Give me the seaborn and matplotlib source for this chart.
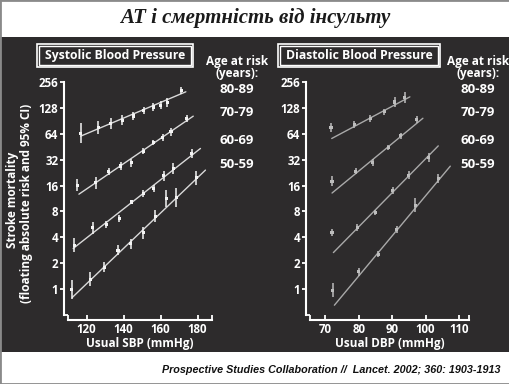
import numpy as np
import pandas as pd
import seaborn as sns
import matplotlib
matplotlib.use("Agg")
import matplotlib.pyplot as plt
from matplotlib.patches import Rectangle
from matplotlib.ticker import FixedLocator, FixedFormatter, NullFormatter

# ---------------- data ----------------
age_groups = ["80-89", "70-79", "60-69", "50-59"]

# Systolic panel: usual SBP (mmHg), floating absolute risk, CI half-width (log2 units)
sbp_x_80 = [116.8, 126.3, 133.0, 139.3, 145.2, 151.0, 156.0, 160.0, 163.6, 171.2]
sbp_y_80 = [65, 76, 84, 92, 103, 120, 131, 137, 148, 202]
sbp_e_80 = [0.39, 0.26, 0.22, 0.19, 0.17, 0.13, 0.15, 0.15, 0.19, 0.13]

sbp_x_70 = [115.1, 124.9, 131.9, 138.4, 144.3, 150.6, 156.1, 161.1, 165.7, 174.1]
sbp_y_70 = [16.2, 17.2, 23.4, 27.0, 29.5, 40.0, 51.0, 58.4, 67.4, 96.4]
sbp_e_70 = [0.23, 0.23, 0.13, 0.15, 0.16, 0.12, 0.10, 0.14, 0.16, 0.13]

sbp_x_60 = [113.5, 123.4, 130.7, 137.8, 144.3, 150.6, 156.4, 161.8, 166.9, 176.8]
sbp_y_60 = [3.25, 5.16, 5.65, 6.63, 10.3, 12.9, 14.8, 20.8, 25.3, 37.8]
sbp_e_60 = [0.28, 0.23, 0.15, 0.13, 0.09, 0.14, 0.15, 0.19, 0.21, 0.17]

sbp_x_50 = [112.1, 122.0, 129.6, 137.0, 143.8, 150.6, 157.1, 163.1, 168.5, 179.3]
sbp_y_50 = [0.99, 1.30, 1.79, 2.84, 3.36, 4.51, 7.06, 11.3, 11.6, 19.7]
sbp_e_50 = [0.37, 0.27, 0.19, 0.19, 0.19, 0.24, 0.24, 0.32, 0.37, 0.26]

# fitted lines (start/end)
sbp_fit_x_80 = [116.8, 173.7]; sbp_fit_y_80 = [60, 197]
sbp_fit_x_70 = [115.9, 177.7]; sbp_fit_y_70 = [12.7, 102.6]
sbp_fit_x_60 = [112.8, 181.6]; sbp_fit_y_60 = [2.97, 43.2]
sbp_fit_x_50 = [112.3, 184.3]; sbp_fit_y_50 = [0.80, 24.2]

# Diastolic panel
dbp_x_80 = [71.7, 78.6, 83.5, 87.7, 90.8, 93.8]
dbp_y_80 = [76.3, 82, 97, 115, 150, 168]
dbp_e_80 = [0.17, 0.12, 0.13, 0.13, 0.19, 0.21]

dbp_x_70 = [72.0, 79.1, 84.2, 88.9, 92.6, 97.4]
dbp_y_70 = [18.0, 23.5, 29.7, 43.9, 60.4, 93.3]
dbp_e_70 = [0.20, 0.12, 0.12, 0.10, 0.10, 0.13]

dbp_x_60 = [72.0, 79.6, 85.0, 90.2, 94.9, 100.9]
dbp_y_60 = [4.56, 5.21, 7.85, 14.0, 21.1, 33.9]
dbp_e_60 = [0.13, 0.12, 0.10, 0.12, 0.16, 0.18]

dbp_x_50 = [72.2, 80.0, 85.9, 91.4, 96.9, 103.8]
dbp_y_50 = [0.97, 1.59, 2.55, 4.94, 9.47, 19.3]
dbp_e_50 = [0.27, 0.15, 0.12, 0.15, 0.26, 0.19]

dbp_fit_x_80 = [71.9, 95.3]; dbp_fit_y_80 = [56.4, 172]
dbp_fit_x_70 = [72.0, 99.2]; dbp_fit_y_70 = [13.1, 97]
dbp_fit_x_60 = [72.4, 103.8]; dbp_fit_y_60 = [2.66, 46.3]
dbp_fit_x_50 = [72.7, 107.4]; dbp_fit_y_50 = [0.65, 26.9]

y_ticks = [1, 2, 4, 8, 16, 32, 64, 128, 256]
y_tick_labels = ["1", "2", "4", "8", "16", "32", "64", "128", "256"]
sbp_ticks = [120, 140, 160, 180]
dbp_ticks = [70, 80, 90, 100, 110]

title = "АТ і смертність від інсульту"
citation = "Prospective Studies Collaboration //  Lancet. 2002; 360: 1903-1913"

# ---------------- drawing ----------------
sns.set_theme(style="ticks")
plt.rcParams["font.family"] = ["Open Sans", "DejaVu Sans"]

W, H = 510, 384
fig = plt.figure(figsize=(W / 100, H / 100), dpi=100)
fig.patch.set_facecolor("white")

def fx(x):
    return x / W

def fy(y):
    return 1 - y / H

BG = "#2d2b2c"
fig.add_artist(Rectangle((0, fy(352)), 1, fy(37) - fy(352), transform=fig.transFigure,
                         facecolor=BG, edgecolor="none", zorder=0))
fig.add_artist(Rectangle((0, 0), 1, 1, transform=fig.transFigure, fill=False,
                         edgecolor="#8a8a8a", lw=2, zorder=5))

fig.text(fx(255), fy(18), title, ha="center", va="center", fontsize=15,
         family=["Liberation Serif", "DejaVu Serif"], fontweight="bold", style="italic",
         color="#1a1a1a")
fig.text(fx(162), fy(370), citation, ha="left", va="center", fontsize=7.75,
         family=["Liberation Sans", "DejaVu Sans"], fontweight="bold", style="italic",
         color="#111111")

def make_df(xs, ys, es):
    df = pd.DataFrame({"x": xs, "y": ys, "e": es})
    df["lo"] = df["y"] / 2 ** df["e"]
    df["hi"] = df["y"] * 2 ** df["e"]
    return df

def draw_panel(ax, series, fits, pt_color, line_color, xlim, xticks, xlabel):
    ax.set_facecolor("none")
    for (xs, ys, es), (fxs, fys) in zip(series, fits):
        df = make_df(xs, ys, es)
        sns.lineplot(x=fxs, y=fys, ax=ax, color=line_color, lw=1.0, estimator=None,
                     sort=False, zorder=2)
        ax.vlines(df["x"], df["lo"], df["hi"], color=pt_color, lw=1.1, zorder=3)
        sns.scatterplot(data=df, x="x", y="y", ax=ax, marker="s", s=5, color=pt_color,
                        edgecolor="none", zorder=4)
    ax.set_yscale("log", base=2)
    ax.set_ylim(0.5, 256)
    ax.set_xlim(*xlim)
    ax.yaxis.set_major_locator(FixedLocator(y_ticks))
    ax.yaxis.set_major_formatter(FixedFormatter(y_tick_labels))
    ax.yaxis.set_minor_locator(FixedLocator([0.5]))
    ax.yaxis.set_minor_formatter(NullFormatter())
    ax.xaxis.set_major_locator(FixedLocator(xticks))
    ax.xaxis.set_major_formatter(FixedFormatter([str(t) for t in xticks]))
    ax.xaxis.set_minor_locator(FixedLocator(list(xlim)))
    ax.xaxis.set_minor_formatter(NullFormatter())
    for s in ["top", "right"]:
        ax.spines[s].set_visible(False)
    ax.spines["left"].set_position(("outward", 3))
    ax.spines["bottom"].set_position(("outward", 3.6))
    for s in ["left", "bottom"]:
        ax.spines[s].set_color("white")
        ax.spines[s].set_linewidth(1.5)
    ax.tick_params(axis="y", which="major", direction="out", length=3, width=1.3,
                   colors="white", labelsize=8.3, pad=1)
    ax.tick_params(axis="y", which="minor", direction="in", length=3, width=1.3,
                   colors="white")
    ax.tick_params(axis="x", which="both", direction="in", length=3.5, width=1.3,
                   colors="white", labelsize=8.3, pad=2)
    for lab in ax.get_xticklabels() + ax.get_yticklabels():
        lab.set_fontweight("bold")
    ax.set_xlabel(xlabel, color="white", fontsize=8.5, fontweight="bold", labelpad=1)
    ax.set_ylabel("")

axL = fig.add_axes([fx(68), fy(315), (212.3 - 68) / W, (315 - 82) / H])
axR = fig.add_axes([fx(310), fy(315), (469 - 310) / W, (315 - 82) / H])

draw_panel(axL,
           [(sbp_x_80, sbp_y_80, sbp_e_80), (sbp_x_70, sbp_y_70, sbp_e_70),
            (sbp_x_60, sbp_y_60, sbp_e_60), (sbp_x_50, sbp_y_50, sbp_e_50)],
           [(sbp_fit_x_80, sbp_fit_y_80), (sbp_fit_x_70, sbp_fit_y_70),
            (sbp_fit_x_60, sbp_fit_y_60), (sbp_fit_x_50, sbp_fit_y_50)],
           "#f4f4f4", "#d9d9d9", (110, 188), sbp_ticks, "Usual SBP (mmHg)")
draw_panel(axR,
           [(dbp_x_80, dbp_y_80, dbp_e_80), (dbp_x_70, dbp_y_70, dbp_e_70),
            (dbp_x_60, dbp_y_60, dbp_e_60), (dbp_x_50, dbp_y_50, dbp_e_50)],
           [(dbp_fit_x_80, dbp_fit_y_80), (dbp_fit_x_70, dbp_fit_y_70),
            (dbp_fit_x_60, dbp_fit_y_60), (dbp_fit_x_50, dbp_fit_y_50)],
           "#bdbdbd", "#a9a9a9", (65.4, 113), dbp_ticks, "Usual DBP (mmHg)")

# y-axis label (left panel only)
fig.text(fx(13), fy(200), "Stroke mortality", rotation=90, ha="center", va="center",
         color="white", fontsize=8.5, fontweight="bold")
fig.text(fx(27), fy(203), "(floating absolute risk and 95% CI)", rotation=90,
         ha="center", va="center", color="white", fontsize=8.5, fontweight="bold")

# panel title boxes
def boxed(x0, x1, y0, y1, text):
    for inset, lw in [(0, 1.2), (2.3, 1.0)]:
        fig.add_artist(Rectangle((fx(x0 + inset), fy(y1 - inset)),
                                 (x1 - x0 - 2 * inset) / W, (y1 - y0 - 2 * inset) / H,
                                 transform=fig.transFigure, fill=False,
                                 edgecolor="white", lw=lw, zorder=3))
    fig.text(fx((x0 + x1) / 2), fy((y0 + y1) / 2), text, ha="center", va="center",
             color="white", fontsize=8.8, fontweight="bold")

boxed(37, 193, 44, 67, "Systolic Blood Pressure")
boxed(278, 440, 44, 67, "Diastolic Blood Pressure")

# age group labels
for cx in [237, 478]:
    fig.text(fx(cx), fy(62), "Age at risk", ha="center", va="center", color="white",
             fontsize=8.5, fontweight="bold")
    fig.text(fx(cx), fy(73.5), "(years):", ha="center", va="center", color="white",
             fontsize=8.5, fontweight="bold")
    for lab, yy in zip(age_groups, [89.5, 112.5, 141, 165]):
        fig.text(fx(cx), fy(yy), lab, ha="center", va="center", color="white",
                 fontsize=9.5, fontweight="bold")

fig.savefig("out.png", dpi=100, facecolor=fig.get_facecolor())
